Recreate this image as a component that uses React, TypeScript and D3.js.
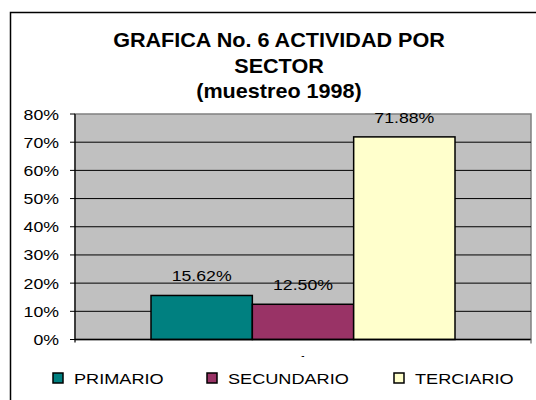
import React from "react";
import * as d3 from "d3";

const titleLines = ["GRAFICA No. 6 ACTIVIDAD POR", "SECTOR", "(muestreo 1998)"];
const categories = ["1"];
const series = ["PRIMARIO", "SECUNDARIO", "TERCIARIO"];
const values = [0.1562, 0.125, 0.7188];
const valueLabels = ["15.62%", "12.50%", "71.88%"];
const colors = ["#008080", "#993366", "#FFFFCC"];
const yTicks = [0, 0.1, 0.2, 0.3, 0.4, 0.5, 0.6, 0.7, 0.8];

const FONT = "'Liberation Sans', Arial, sans-serif";
const SX = 1.18; // the reference text is stretched sideways

function SText({ x, y, anchor = "start", size = 15, bold = false, sx = SX, children }: any) {
  return (
    <g transform={`translate(${x},${y}) scale(${sx},1)`}>
      <text textAnchor={anchor} fontSize={size} fontWeight={bold ? "bold" : "normal"} fill="#000">
        {children}
      </text>
    </g>
  );
}

export default function App() {
  const plot = { left: 75, right: 531, top: 114, bottom: 339.5 };

  const y = d3.scaleLinear().domain([0, 0.8]).range([plot.bottom, plot.top]);
  const x = d3
    .scaleBand<string>()
    .domain(series)
    .range([plot.left, plot.right])
    .paddingInner(0)
    .paddingOuter(0.75);
  const fmt = d3.format(".0%");

  const legendX = [53, 207, 394];

  return (
    <svg
      width={536}
      height={400}
      style={{ position: "absolute", left: 0, top: 0, fontFamily: FONT }}
    >
      <rect x={0} y={0} width={536} height={400} fill="#fff" />
      <rect x={10.5} y={12.5} width={540} height={400} fill="#fff" stroke="#000" strokeWidth={1.5} />

      {titleLines.map((t, i) => (
        <SText key={i} x={279} y={47 + i * 25.6} anchor="middle" size={20} bold sx={1.08}>
          {t}
        </SText>
      ))}

      {/* plot area */}
      <rect
        x={plot.left}
        y={plot.top}
        width={plot.right - plot.left}
        height={plot.bottom - plot.top}
        fill="#C0C0C0"
        stroke="#808080"
        strokeWidth={1.5}
      />
      {yTicks.slice(1, -1).map((t) => (
        <line key={t} x1={plot.left} x2={plot.right} y1={y(t)} y2={y(t)} stroke="#000" strokeWidth={1} />
      ))}

      {/* bars */}
      {series.map((s, i) => (
        <rect
          key={s}
          x={x(s)}
          y={y(values[i])}
          width={x.bandwidth()}
          height={y(0) - y(values[i])}
          fill={colors[i]}
          stroke="#000"
          strokeWidth={1.5}
        />
      ))}
      {series.map((s, i) => (
        <SText key={s} x={(x(s) as number) + x.bandwidth() / 2} y={y(values[i]) - 14} anchor="middle">
          {valueLabels[i]}
        </SText>
      ))}

      {/* axes */}
      <line x1={plot.left} x2={plot.left} y1={plot.top} y2={plot.bottom + 3} stroke="#000" strokeWidth={1.2} />
      <line x1={plot.left} x2={plot.right} y1={plot.bottom} y2={plot.bottom} stroke="#000" strokeWidth={1.5} />
      <line x1={plot.right} x2={plot.right} y1={plot.bottom} y2={plot.bottom + 4} stroke="#808080" strokeWidth={1.5} />
      {yTicks.map((t) => (
        <g key={t}>
          <line x1={plot.left - 5} x2={plot.left} y1={y(t)} y2={y(t)} stroke="#000" strokeWidth={1} />
          <SText x={59} y={y(t) + 5.5} anchor="end">
            {fmt(t)}
          </SText>
        </g>
      ))}

      {/* category label, mostly hidden under the legend */}
      <clipPath id="catclip">
        <rect x={0} y={plot.bottom + 4} width={536} height={13.5} />
      </clipPath>
      <g clipPath="url(#catclip)">
        {categories.map((c) => (
          <SText key={c} x={(plot.left + plot.right) / 2} y={366} anchor="middle">
            {c}
          </SText>
        ))}
      </g>

      {/* legend */}
      {series.map((s, i) => (
        <g key={s}>
          <rect x={legendX[i]} y={373} width={10} height={10} fill={colors[i]} stroke="#000" strokeWidth={1.5} />
          <SText x={legendX[i] + 21} y={383.5} size={15.5} sx={1.17}>
            {s}
          </SText>
        </g>
      ))}
    </svg>
  );
}
